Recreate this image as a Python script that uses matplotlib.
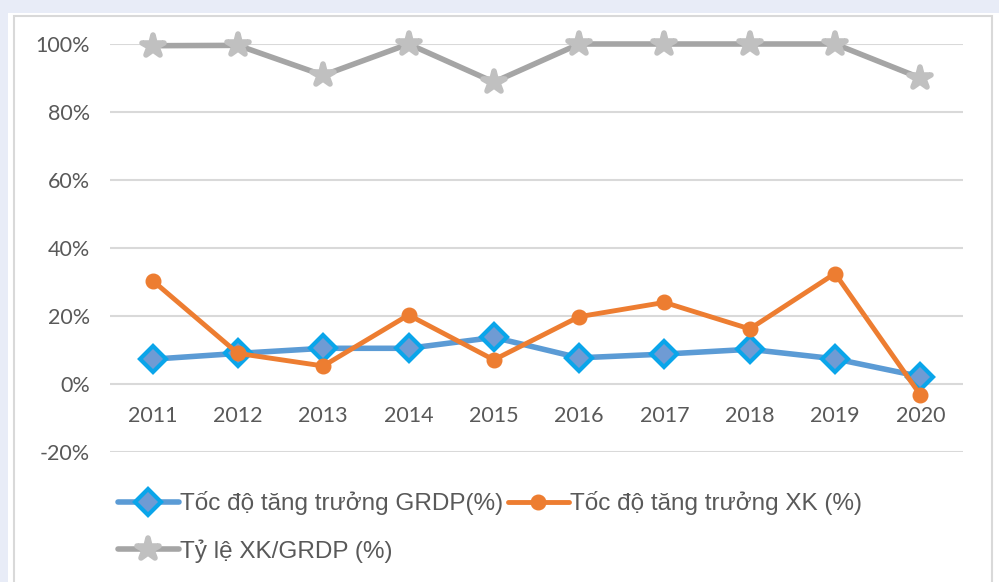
import matplotlib
matplotlib.use("Agg")
import matplotlib.pyplot as plt
from matplotlib.patches import Rectangle
from matplotlib.markers import MarkerStyle
from matplotlib.ticker import FixedLocator

years = ["2011", "2012", "2013", "2014", "2015", "2016", "2017", "2018", "2019", "2020"]
grdp_growth = [7.3, 9.0, 10.5, 10.5, 13.7, 7.7, 8.8, 10.2, 7.4, 2.2]
export_growth = [30.4, 9.0, 5.3, 20.3, 7.1, 19.8, 24.0, 16.2, 32.5, -3.2]
export_ratio = [99.5, 99.6, 90.8, 100.0, 88.8, 100.0, 100.0, 100.0, 100.0, 90.0]
y_ticks = [-20, 0, 20, 40, 60, 80, 100]
y_labels = ["-20%", "0%", "20%", "40%", "60%", "80%", "100%"]

W, H = 999, 582
fig = plt.figure(figsize=(W / 100, H / 100), dpi=100, facecolor="#e8ecf7")

# white chart panel with thin border
fig.patches.append(Rectangle((8 / W, 0), (W - 8) / W, (H - 13) / H, transform=fig.transFigure,
                             facecolor="white", edgecolor="none", zorder=-2))
fig.patches.append(Rectangle((14 / W, -0.02), (992 - 14) / W, (H - 16) / H + 0.02, transform=fig.transFigure,
                             facecolor="none", edgecolor="#d9d9d9", lw=1.5, zorder=-1))

ax = fig.add_axes([110 / W, 1 - 452 / H, (963 - 110) / W, (452 - 44) / H])
ax.set_facecolor("none")
x = list(range(len(years)))

l1, = ax.plot(x, grdp_growth, color="#5b9bd5", lw=4, marker="D", markersize=13,
              markerfacecolor="#6f9bd4", markeredgecolor="#0aa5ea", markeredgewidth=3,
              solid_capstyle="round", label="Tốc độ tăng trưởng GRDP(%)", zorder=4, clip_on=False)
l2, = ax.plot(x, export_growth, color="#ed7d31", lw=3.5, marker="o", markersize=10.5,
              markerfacecolor="#ed7d31", markeredgecolor="#ed7d31",
              solid_capstyle="round", label="Tốc độ tăng trưởng XK (%)", zorder=5, clip_on=False)
star = MarkerStyle("*", joinstyle="round")
l3, = ax.plot(x, export_ratio, color="#a5a5a5", lw=4, marker=star, markersize=16,
              markerfacecolor="#c0c0c0", markeredgecolor="#c0c0c0", markeredgewidth=4,
              solid_capstyle="round", label="Tỷ lệ XK/GRDP (%)", zorder=3, clip_on=False)
for l in (l1, l2, l3):
    l.set_solid_joinstyle("round")

ax.set_xlim(-0.5, len(years) - 0.5)
ax.set_ylim(-20, 100)
ax.yaxis.set_major_locator(FixedLocator(y_ticks))
ax.set_yticklabels(y_labels)
ax.set_xticks(x)
ax.set_xticklabels(years)
ax.grid(axis="y", color="#d9d9d9", lw=1.5)
ax.set_axisbelow(True)
for s in ["top", "right", "left"]:
    ax.spines[s].set_visible(False)
ax.spines["bottom"].set_position(("data", 0))
ax.spines["bottom"].set_visible(False)
ax.tick_params(axis="both", length=0, colors="#595959", labelsize=15.5)
ax.tick_params(axis="y", pad=14.5)
ax.tick_params(axis="x", pad=15.5)
for lab in ax.get_xticklabels() + ax.get_yticklabels():
    lab.set_fontfamily(["Lato", "DejaVu Sans"])

leg = fig.legend(handles=[l1, l3, l2], labels=[l1.get_label(), l3.get_label(), l2.get_label()],
                 loc="center left", bbox_to_anchor=(118 / W, 1 - 527 / H), ncol=2, frameon=False,
                 borderpad=0, borderaxespad=0, handlelength=2.5, handletextpad=0.05,
                 columnspacing=0.2, labelspacing=1.0,
                 prop={"family": ["Liberation Sans", "DejaVu Sans"], "size": 17.5})
for t in leg.get_texts():
    t.set_color("#595959")

fig.savefig("out.png", dpi=100, facecolor=fig.get_facecolor())
